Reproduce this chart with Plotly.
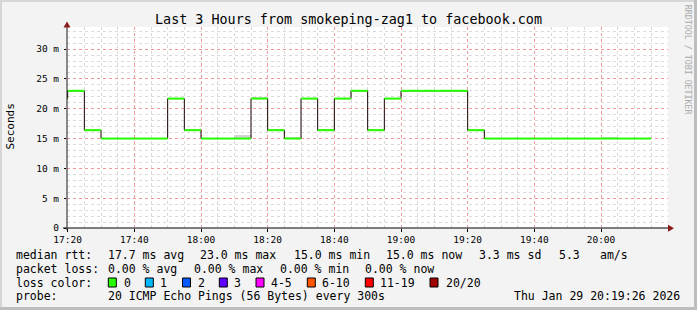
import plotly.graph_objects as go
import pandas as pd

# ---------------- data ----------------
title_text = "Last 3 Hours from smokeping-zag1 to facebook.com"
period_start = pd.date_range("2026-01-29 17:15:00", "2026-01-29 20:10:00", freq="5min")
median_ms = [21.7, 23.0, 16.4, 15.0, 15.0, 15.0, 15.0, 21.7, 16.4, 15.0,
             15.0, 15.0, 21.7, 16.4, 15.0, 21.7, 16.4, 21.7, 23.0, 16.4,
             21.7, 23.0, 23.0, 23.0, 23.0, 16.4, 15.0, 15.0, 15.0, 15.0,
             15.0, 15.0, 15.0, 15.0, 15.0, 15.0]
smoke_start = ["2026-01-29 18:10:00", "2026-01-29 18:15:00", "2026-01-29 18:25:00", "2026-01-29 20:00:00"]
smoke_low = [15.0, 21.7, 15.0, 15.0]
smoke_high = [15.6, 22.0, 15.3, 15.2]

x_tick_vals = ["2026-01-29 17:20", "2026-01-29 17:40", "2026-01-29 18:00", "2026-01-29 18:20",
               "2026-01-29 18:40", "2026-01-29 19:00", "2026-01-29 19:20", "2026-01-29 19:40",
               "2026-01-29 20:00"]
x_tick_text = ["17:20", "17:40", "18:00", "18:20", "18:40", "19:00", "19:20", "19:40", "20:00"]
y_tick_vals = [0, 5, 10, 15, 20, 25, 30]
y_tick_text = ["0", "5 m", "10 m", "15 m", "20 m", "25 m", "30 m"]

row_heads = ["median rtt:", "packet loss:", "loss color:", "probe:"]
rtt_items = ["17.7 ms avg", "23.0 ms max", "15.0 ms min", "15.0 ms now", "3.3 ms sd", "5.3", "am/s"]
loss_items = ["0.00 % avg", "0.00 % max", "0.00 % min", "0.00 % now"]
loss_labels = ["0", "1", "2", "3", "4-5", "6-10", "11-19", "20/20"]
loss_colors = ["#26ff00", "#00b8ff", "#0059ff", "#5e00ff", "#ff00ff", "#ff5500", "#ff0000", "#a10000"]
probe_text = "20 ICMP Echo Pings (56 Bytes) every 300s"
date_text = "Thu Jan 29 20:19:26 2026"
credit_text = "RRDTOOL / TOBI OETIKER"

# ---------------- layout helpers (pixels) ----------------
W, H = 697, 310
L, R, T, B = 67, 29, 27, 82
PW, PH = W - L - R, H - T - B
MONO = "DejaVu Sans Mono"

def px(x):
    return (x - L) / PW

def py(y):
    return (H - B - y) / PH

step = pd.Timedelta(minutes=5)
period_end = period_start + step

fig = go.Figure()

# smoke
fig.add_trace(go.Bar(
    x=pd.to_datetime(smoke_start), y=[h - l for h, l in zip(smoke_high, smoke_low)],
    base=smoke_low, width=300000, offset=0,
    marker=dict(color="#d2d2d2", line=dict(width=0)), showlegend=False, hoverinfo="skip"))

# dark step outline
fig.add_trace(go.Scatter(
    x=list(period_start) + [period_end[-1]], y=median_ms + [median_ms[-1]],
    mode="lines", line=dict(shape="hv", color="#1a0000", width=1),
    showlegend=False, hoverinfo="skip"))

# green median segments
gx, gy = [], []
for s, e, v in zip(period_start, period_end, median_ms):
    gx += [s, e, None]
    gy += [v, v, None]
fig.add_trace(go.Scatter(x=gx, y=gy, mode="lines",
                         line=dict(color="#26ff00", width=2),
                         showlegend=False, hoverinfo="skip"))

major_grid = "#f29a9a"
minor_grid = "#dadada"

grid_x = pd.date_range("2026-01-29 17:20", "2026-01-29 20:20", freq="5min")
minor_x = [t for t in grid_x if t.minute % 20 != 0]
minor_y = [v for v in range(1, 34) if v % 5 != 0]

fig.update_xaxes(
    type="date",
    range=["2026-01-29 17:19:48", "2026-01-29 20:20:06"],
    tickmode="array", tickvals=x_tick_vals, ticktext=x_tick_text,
    showgrid=True, gridcolor=major_grid, griddash="dot", gridwidth=1,
    minor=dict(tickmode="array", tickvals=minor_x, showgrid=True,
               gridcolor=minor_grid, griddash="dot", gridwidth=1),
    ticks="outside", ticklen=3, tickcolor="#000000",
    tickfont=dict(family=MONO, size=9.5, color="#000000"),
    showline=False, zeroline=False, fixedrange=True)

fig.update_yaxes(
    range=[0, 33.7], tickmode="array", tickvals=y_tick_vals, ticktext=y_tick_text,
    showgrid=True, gridcolor=major_grid, griddash="dot", gridwidth=1,
    minor=dict(tickmode="array", tickvals=minor_y, showgrid=True,
               gridcolor=minor_grid, griddash="dot", gridwidth=1),
    ticks="outside", ticklen=2, tickcolor="#000000", ticklabelstandoff=3,
    tickfont=dict(family=MONO, size=9.5, color="#000000"),
    showline=False, zeroline=False, fixedrange=True)

shapes = []
# outer bevel border
shapes.append(dict(type="line", xref="paper", yref="paper", x0=px(0), x1=px(W), y0=py(1), y1=py(1),
                   line=dict(color="#d6d6d6", width=2)))
shapes.append(dict(type="line", xref="paper", yref="paper", x0=px(1), x1=px(1), y0=py(0), y1=py(H),
                   line=dict(color="#d6d6d6", width=2)))
shapes.append(dict(type="line", xref="paper", yref="paper", x0=px(0), x1=px(W), y0=py(H - 1.5), y1=py(H - 1.5),
                   line=dict(color="#bdbdbd", width=3)))
shapes.append(dict(type="line", xref="paper", yref="paper", x0=px(W - 1.5), x1=px(W - 1.5), y0=py(0), y1=py(H),
                   line=dict(color="#bdbdbd", width=3)))
# axes lines
shapes.append(dict(type="line", xref="paper", yref="paper", x0=px(63), x1=px(669), y0=0, y1=0,
                   line=dict(color="#000000", width=1)))
shapes.append(dict(type="line", xref="paper", yref="paper", x0=0, x1=0, y0=py(230), y1=py(25),
                   line=dict(color="#1a1a1a", width=1)))
# arrows
shapes.append(dict(type="path", xref="paper", yref="paper",
                   path=f"M {px(63.5)} {py(27.5)} L {px(67)} {py(21.5)} L {px(70.5)} {py(27.5)} Z",
                   fillcolor="#8b1a1a", line=dict(width=0)))
shapes.append(dict(type="path", xref="paper", yref="paper",
                   path=f"M {px(668)} {py(224.8)} L {px(674)} {py(228.3)} L {px(668)} {py(231.8)} Z",
                   fillcolor="#8b1a1a", line=dict(width=0)))

annotations = []

def txt(x, y, s, size=11.5, color="#000000", anchor="left", angle=0):
    annotations.append(dict(x=px(x), y=py(y), xref="paper", yref="paper", text=s,
                            showarrow=False, xanchor=anchor, yanchor="middle",
                            textangle=angle, borderpad=0,
                            font=dict(family=MONO, size=size, color=color)))

row_y = [254.5, 268.5, 282.5, 296.2]
head_x = 15
for head, yy in zip(row_heads, row_y):
    txt(head_x, yy, head)

rtt_x = [106.5, 199.3, 292.5, 385.3, 478.3, 557.5, 599.3]
for s, xx in zip(rtt_items, rtt_x):
    txt(xx, row_y[0], s)

loss_x = [106.5, 192.5, 278.5, 364.3]
for s, xx in zip(loss_items, loss_x):
    txt(xx, row_y[1], s)

box_x = [108.3, 145.3, 182.5, 219.3, 256, 307.3, 365.3, 430]
lab_x = [122.5, 159.3, 196.5, 233.3, 270, 321.3, 379.3, 444.5]
for lab, col, bx, lx in zip(loss_labels, loss_colors, box_x, lab_x):
    shapes.append(dict(type="rect", xref="paper", yref="paper",
                       x0=px(bx), x1=px(bx + 8), y0=py(278), y1=py(287),
                       fillcolor=col, line=dict(color="#000000", width=1)))
    txt(lx, row_y[2], lab)

txt(106.5, row_y[3], probe_text)
txt(512.5, row_y[3], date_text)

txt(10.5, 127, "Seconds", size=11, angle=-90, anchor="center")
txt(688.3, 60, credit_text, size=8.3, color="#aaaaaa", anchor="center", angle=90)

fig.update_layout(
    width=W, height=H,
    margin=dict(l=L, r=R, t=T, b=B, pad=0),
    paper_bgcolor="#f3f3f3", plot_bgcolor="#ffffff",
    title=dict(text=title_text, x=0.5, xref="container", xanchor="center",
               y=1 - 19 / H, yref="container", yanchor="middle",
               font=dict(family=MONO, size=13.4, color="#000000")),
    shapes=shapes, annotations=annotations,
    showlegend=False, bargap=0,
)

fig.write_html("out.html", config={"displayModeBar": False})
